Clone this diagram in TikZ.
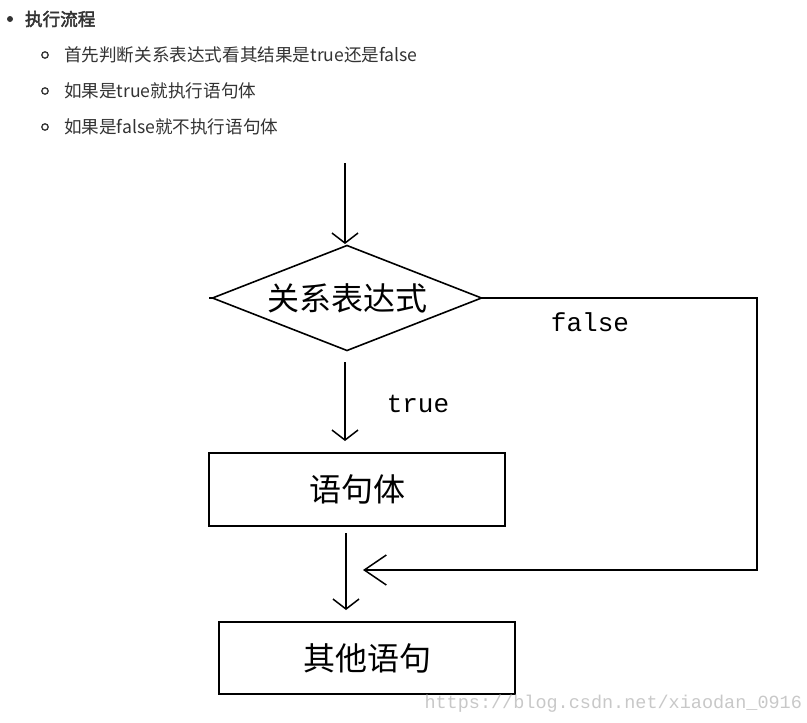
\documentclass[tikz,border=0pt]{standalone}
\usepackage{fontspec}
\setmainfont{Liberation Sans}
\newfontfamily\cjk{Noto Sans CJK SC}
\newfontfamily\cjkbold{Noto Sans CJK SC}[FakeBold=2.5]
\newfontfamily\monof{Liberation Mono}
\usetikzlibrary{shapes.geometric,arrows.meta}
\definecolor{txt}{HTML}{333333}
\definecolor{wm}{HTML}{C8C8C8}
\begin{document}
\begin{tikzpicture}[x=1pt,y=-1pt,
  every node/.style={inner sep=0pt, outer sep=0pt},
  listtext/.style={anchor=west, text=txt, font=\cjk\fontsize{17.6}{20}\selectfont},
  boxnode/.style={draw, line width=1.8pt, text=black, font=\cjk\fontsize{32}{34}\selectfont},
  flow/.style={line width=1.6pt, -{Straight Barb[length=10pt,width=26pt,line width=1.5pt]}},
  lbl/.style={font=\monof\fontsize{26}{28}\selectfont, text=black}
]
\useasboundingbox (0,0) rectangle (807,723);
% bullet list
\fill[txt] (10,19) circle (3pt) coordinate (b0);
\node[anchor=west, text=txt, font=\cjkbold\fontsize{17.6}{20}\selectfont] (h) at (25,19) {执行流程};
\draw[txt, line width=1.3pt] (45,55) circle (3.2pt) coordinate (c1);
\node[listtext] (l1) at (64,55) {首先判断关系表达式看其结果是true还是false};
\draw[txt, line width=1.3pt] (45,91) circle (3.2pt) coordinate (c2);
\node[listtext] (l2) at (64,91) {如果是true就执行语句体};
\draw[txt, line width=1.3pt] (45,127) circle (3.2pt) coordinate (c3);
\node[listtext] (l3) at (64,127) {如果是false就不执行语句体};

% flowchart
\node[shape=diamond, draw, line width=1.6pt, aspect=2.56, minimum width=269pt, minimum height=105pt,
      font=\cjk\fontsize{32}{34}\selectfont] (cond) at (347,298) {关系表达式};
\node[boxnode, minimum width=296pt, minimum height=73pt] (body) at (357,489.5) {语句体};
\node[boxnode, minimum width=296pt, minimum height=72pt] (other) at (367,658) {其他语句};

\coordinate (start) at (345,163);
\coordinate (tstart) at (345,362);
\coordinate (tend) at (345,441);
\coordinate (bstart) at (346,533);
\coordinate (bend) at (346,610);
\coordinate (fr) at (757,298);
\coordinate (fd) at (757,570);
\coordinate (fend) at (363,570);

\draw[flow] (start) -- (345,244);
\draw[line width=1.6pt] (cond.west) -- ++(-4,0);
\draw[flow] (tstart) -- (tend);
\draw[flow] (bstart) -- (bend);
\draw[line width=1.6pt, -{Straight Barb[length=22pt,width=30pt,line width=1.5pt]}] (cond.east) -- (fr) -- (fd) -- (fend);

\node[lbl] (ltrue) at (418,404) {true};
\node[lbl] (lfalse) at (590,322) {false};

\node[anchor=east, font=\monof\fontsize{18.5}{20}\selectfont, text=wm] (wmark) at (802,704) {https://blog.csdn.net/xiaodan\_0916};
\end{tikzpicture}
\end{document}
